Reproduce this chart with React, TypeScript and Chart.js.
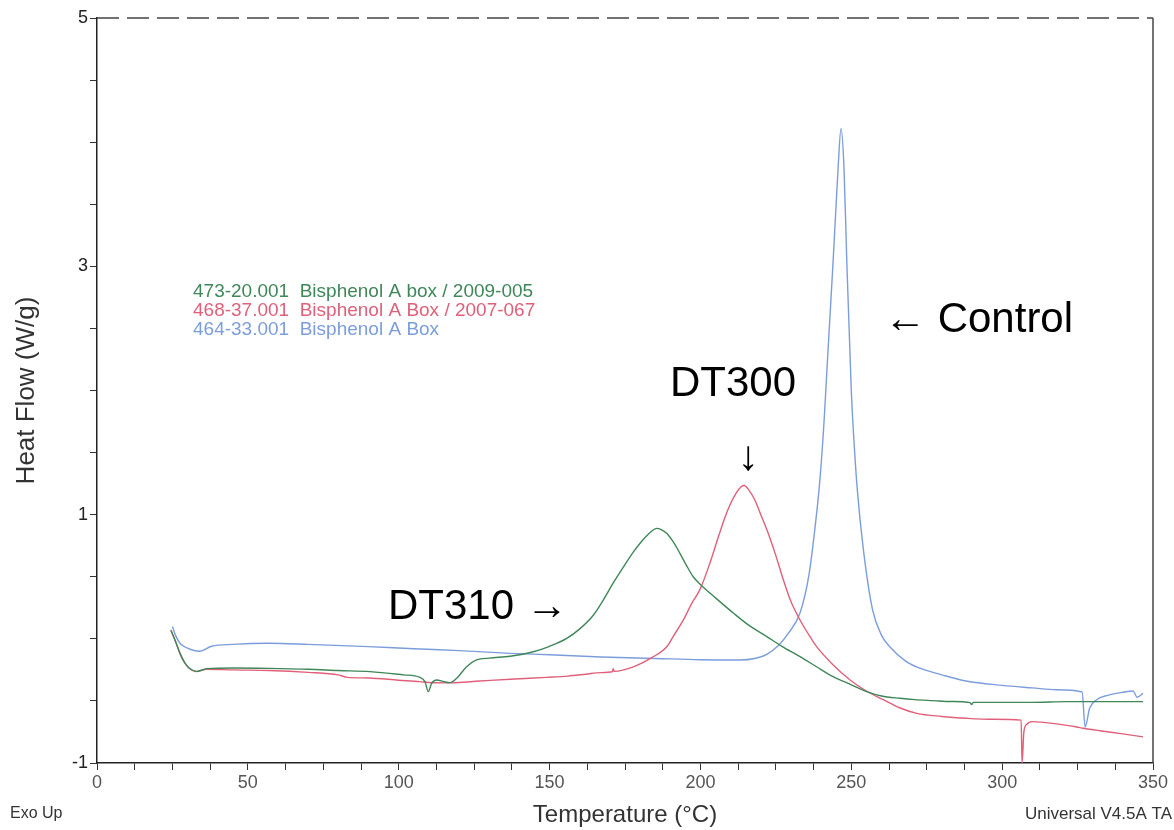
import React, { useEffect, useRef } from "react";
import { Chart, registerables } from "chart.js";

Chart.register(...registerables);

// ---- Data ----
const controlTemp = [25, 26, 27.5, 30, 34, 38, 45, 57, 70, 90, 105, 120, 137, 150, 167, 185, 200, 213, 218, 222, 226, 229, 233, 236, 238, 239.6, 241, 242, 244, 245.6, 246.6, 247.6, 248.5, 250, 251, 252, 254, 257, 260, 263, 268, 272, 280, 288, 300, 310, 318, 326.5, 327.5, 329, 331.3, 335, 340, 343.4, 344.7, 346.7];
const controlFlow = [0.1, 0.03, -0.036, -0.075, -0.1, -0.06, -0.045, -0.036, -0.045, -0.063, -0.08, -0.095, -0.117, -0.128, -0.146, -0.158, -0.168, -0.17, -0.158, -0.125, -0.05, 0.04, 0.208, 0.52, 0.9, 1.28, 1.76, 2.2, 3.05, 3.78, 4.11, 3.78, 3.05, 2.0, 1.55, 1.2, 0.72, 0.24, 0.03, -0.07, -0.18, -0.23, -0.29, -0.34, -0.375, -0.395, -0.41, -0.428, -0.71, -0.56, -0.49, -0.455, -0.43, -0.42, -0.47, -0.44];

const dt300Temp = [24.5, 26, 27.5, 29, 30.5, 33, 36.4, 45, 57, 70, 80, 83, 90, 100, 107, 110, 117, 127, 137, 149, 156, 162, 167, 170.8, 171.1, 171.4, 178, 184, 189, 191, 194.3, 197, 199.9, 203, 205.4, 208, 210, 212, 213.5, 214.5, 216, 218, 220, 222, 225, 227.5, 230, 233, 236, 238.5, 244, 249.6, 255, 260.6, 266, 271.7, 280, 288.3, 297, 306.3, 306.6, 307.2, 308.1, 310, 318, 324.7, 326.9, 332.4, 340, 346.7];
const dt300Flow = [0.07, -0.02, -0.117, -0.19, -0.235, -0.264, -0.245, -0.25, -0.255, -0.27, -0.29, -0.31, -0.315, -0.333, -0.345, -0.352, -0.355, -0.34, -0.325, -0.31, -0.3, -0.285, -0.272, -0.265, -0.24, -0.262, -0.224, -0.15, -0.06, 0.02, 0.15, 0.28, 0.4, 0.6, 0.78, 0.97, 1.09, 1.18, 1.225, 1.235, 1.2, 1.12, 1.0, 0.88, 0.67, 0.474, 0.3, 0.152, 0.03, -0.063, -0.21, -0.331, -0.42, -0.49, -0.555, -0.6, -0.625, -0.64, -0.648, -0.655, -1.0, -0.75, -0.69, -0.667, -0.685, -0.71, -0.72, -0.74, -0.765, -0.79];

const dt310Temp = [24.5, 26, 27.5, 29, 30.5, 33, 36.4, 45, 57, 70, 80, 90.5, 101.5, 107, 108.7, 109.8, 110.9, 112.6, 115, 117, 119.2, 122.5, 125.8, 130, 136.9, 144.6, 150, 155.7, 160, 164.5, 168, 171.1, 174.5, 177.8, 180, 182.2, 184, 185.5, 187, 188.8, 191, 193.2, 195.4, 197.6, 199.9, 205, 211, 216, 222, 227, 233, 238.5, 244, 250, 255.1, 260, 266.1, 271, 277.2, 283, 289.4, 289.9, 290.4, 300, 310, 321.4, 332.4, 340, 346.7];
const dt310Flow = [0.07, -0.02, -0.117, -0.19, -0.235, -0.262, -0.24, -0.235, -0.238, -0.245, -0.255, -0.264, -0.29, -0.31, -0.345, -0.425, -0.358, -0.331, -0.345, -0.353, -0.318, -0.224, -0.17, -0.155, -0.14, -0.104, -0.06, 0.003, 0.08, 0.19, 0.32, 0.45, 0.58, 0.7, 0.77, 0.83, 0.87, 0.89, 0.88, 0.85, 0.78, 0.689, 0.59, 0.5, 0.44, 0.33, 0.206, 0.11, 0.018, -0.06, -0.143, -0.225, -0.305, -0.37, -0.425, -0.46, -0.479, -0.49, -0.498, -0.505, -0.514, -0.53, -0.512, -0.512, -0.512, -0.506, -0.506, -0.506, -0.506];

const seriesLabels = [
  "473-20.001  Bisphenol A box / 2009-005",
  "468-37.001  Bisphenol A Box / 2007-067",
  "464-33.001  Bisphenol A Box",
];
const annotationTexts = ["\u2190 Control", "DT300", "\u2193", "DT310 \u2192"];
const xTickLabels = [0, 50, 100, 150, 200, 250, 300, 350];
const yTickLabels = [5, 3, 1, -1];

const GREEN = "#3f8759";
const RED = "#e0607a";
const BLUE = "#7c9ddc";
const FONT = "Arial, 'Liberation Sans', sans-serif";

function toPoints(xs: number[], ys: number[]) {
  return xs.map((x, i) => ({ x, y: ys[i] }));
}

const decorPlugin = {
  id: "decor",
  afterDraw(chart: any) {
    const { ctx, chartArea } = chart;
    const { left, right, top, bottom } = chartArea;
    ctx.save();
    // top dashed border
    ctx.strokeStyle = "#444";
    ctx.lineWidth = 1.5;
    ctx.setLineDash([22, 8]);
    ctx.beginPath();
    ctx.moveTo(left, top);
    ctx.lineTo(right, top);
    ctx.stroke();
    ctx.setLineDash([]);
    // right border
    ctx.beginPath();
    ctx.moveTo(right, top);
    ctx.lineTo(right, bottom);
    ctx.stroke();

    // legend texts
    const colors = [GREEN, RED, BLUE];
    ctx.font = `19px ${FONT}`;
    ctx.textBaseline = "middle";
    ctx.textAlign = "left";
    seriesLabels.forEach((t, i) => {
      ctx.fillStyle = colors[i];
      ctx.fillText(t, 193, 292 + i * 19);
    });

    // annotations
    ctx.fillStyle = "#000";
    ctx.font = `42px ${FONT}`;
    ctx.textBaseline = "alphabetic";
    ctx.textAlign = "left";
    ctx.fillText(annotationTexts[0], 884, 332);
    ctx.fillText(annotationTexts[1], 670, 396);
    ctx.textAlign = "center";
    ctx.fillText(annotationTexts[2], 748, 470);
    ctx.textAlign = "left";
    ctx.fillText(annotationTexts[3], 388, 619);

    // corner notes
    ctx.fillStyle = "#333";
    ctx.font = `16px ${FONT}`;
    ctx.textBaseline = "middle";
    ctx.textAlign = "left";
    ctx.fillText("Exo Up", 10, 814);
    ctx.font = `17px ${FONT}`;
    ctx.textAlign = "right";
    ctx.fillText("Universal V4.5A TA", 1172, 814);
    ctx.restore();
  },
};

export default function App() {
  const ref = useRef<HTMLCanvasElement | null>(null);

  useEffect(() => {
    document.body.style.margin = "0";
    const canvas = ref.current;
    if (!canvas) return;
    const chart = new Chart(canvas, {
      type: "line",
      data: {
        datasets: [
          {
            label: seriesLabels[0],
            data: toPoints(dt310Temp, dt310Flow),
            borderColor: GREEN,
            borderWidth: 1.4,
            pointRadius: 0,
            cubicInterpolationMode: "monotone",
          },
          {
            label: seriesLabels[1],
            data: toPoints(dt300Temp, dt300Flow),
            borderColor: RED,
            borderWidth: 1.4,
            pointRadius: 0,
            cubicInterpolationMode: "monotone",
          },
          {
            label: seriesLabels[2],
            data: toPoints(controlTemp, controlFlow),
            borderColor: BLUE,
            borderWidth: 1.4,
            pointRadius: 0,
            cubicInterpolationMode: "monotone",
          },
        ],
      },
      options: {
        animation: false,
        responsive: false,
        maintainAspectRatio: false,
        layout: { padding: { top: 18, right: 21, left: 0, bottom: 0 } },
        plugins: { legend: { display: false }, tooltip: { enabled: false } },
        scales: {
          x: {
            type: "linear",
            min: 0,
            max: 350,
            afterFit: (s: any) => {
              s.height = 67;
            },
            ticks: {
              stepSize: 12.5,
              autoSkip: false,
              maxRotation: 0,
              padding: 2,
              color: "#555",
              font: { size: 18, family: FONT },
              callback: (v: any) => (xTickLabels.includes(Number(v)) ? String(v) : ""),
            },
            grid: { drawOnChartArea: false, tickLength: 7, color: "#333" },
            border: { display: true, color: "#222", width: 1.5 },
            title: {
              display: true,
              text: "Temperature (°C)",
              color: "#333",
              font: { size: 24, family: FONT },
              padding: { top: 0, bottom: 0 },
            },
          },
          y: {
            type: "linear",
            min: -1,
            max: 5,
            afterFit: (s: any) => {
              s.width = 97;
            },
            ticks: {
              stepSize: 0.5,
              autoSkip: false,
              padding: 2,
              color: "#222",
              font: { size: 18, family: FONT },
              callback: (v: any) => (yTickLabels.includes(Number(v)) ? String(v) : ""),
            },
            grid: { drawOnChartArea: false, tickLength: 7, color: "#333" },
            border: { display: true, color: "#222", width: 1.5 },
            title: {
              display: true,
              text: "Heat Flow (W/g)",
              color: "#333",
              font: { size: 26, family: FONT },
              padding: { top: 11, bottom: 0 },
            },
          },
        },
      },
      plugins: [decorPlugin],
    } as any);
    return () => chart.destroy();
  }, []);

  return (
    <div style={{ width: 1174, height: 830, background: "#fff" }}>
      <canvas ref={ref} width={1174} height={830} style={{ display: "block" }} />
    </div>
  );
}
